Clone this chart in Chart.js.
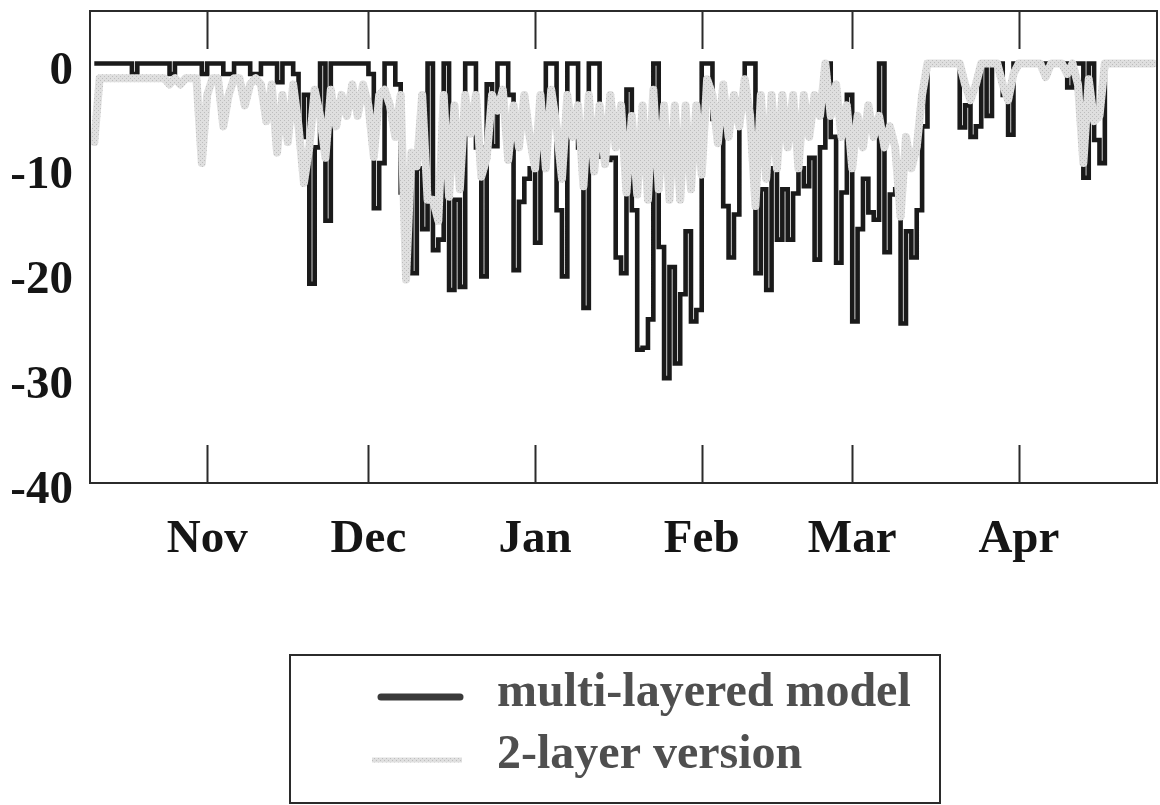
<!DOCTYPE html>
<html>
<head>
<meta charset="utf-8">
<script src="https://cdn.jsdelivr.net/npm/chart.js@4.4.1/dist/chart.umd.min.js"></script>
<style>
  html, body { margin: 0; padding: 0; background: #ffffff; }
  #c { display: block; }
</style>
</head>
<body>
<canvas id="c" width="1160" height="805"></canvas>
<script>
// ---- data (days counted from 1 Nov; first value is 11 Oct) ----
const dayStart = -21;
const monthTicks = [0, 30, 61, 92, 120, 151];
const monthLabels = ['Nov', 'Dec', 'Jan', 'Feb', 'Mar', 'Apr'];
const yTicks = [-40, -30, -20, -10, 0];

// multi-layered model (one value per day)
const multiLayer = [
  // Oct 11 - Oct 31
  0,0,0,0,0,0,0,-1,0,0,0,0,0,0,-1,0,0,0,0,0,-1,
  // Nov
  0,0,0,-1,-1,0,0,0,-1,-1,
  0,0,0,-1.8,0,0,-1,-7,-3,-21,
  -8,0,-15,0,0,0,0,0,0,0,
  // Dec
  -1,-13.8,-9.5,0,0,-2,-12.3,-11,-20,-10,
  -15.8,0,-17.8,-16.8,0,-21.6,-13,-21.3,0,0,
  -8,-20.3,-2,-7.9,0,0,-3,-19.7,-13.2,-11,-10,
  // Jan
  -17.1,-6,0,0,-14,-20.3,0,0,-8,-23.3,
  0,0,-8.9,-9.2,-9,-18.5,-20,-2.5,-14,-27.3,
  -27.1,-24.4,0,-17.5,-30,-19.4,-28.6,-22,-16,-24.6,-23.5,
  // Feb
  0,0,-5.3,-4,-13.6,-18.5,-14.4,-3.5,0,0,
  -20,-12,-21.6,-10,-16.8,-12,-16.8,-12.4,-10,-11.7,
  -9,-18.7,-8,0,-7,-19,-12.3,-3,
  // Mar
  -24.6,-15.8,-11,-14.2,-14.9,0,-18,-12.5,-12,-24.8,
  -16,-18.5,-14,-6,0,0,0,0,0,0,
  -6.1,-4,-7,-6,0,-5,0,0,-3,-6.8,0,
  // Apr 1 - Apr 26
  0,0,0,0,0,0,0,0,0,-2.3,
  0,0,-10.9,0,-7.3,-9.5,0,0,0,0,
  0,0,0,0,0,0
];

// 2-layer version (one value per day)
const twoLayer = [
  // Oct 11 - Oct 31
  -7.5,-1.4,-1.4,-1.4,-1.4,-1.4,-1.4,-1.4,-1.4,-1.4,-1.4,-1.4,-1.4,-1.4,-2,-1.4,-2,-1.4,-1.4,-1.4,-9.5,
  // Nov
  -3,-1.4,-1.4,-6,-3,-1.4,-1.4,-4,-2,-1.4,
  -2,-5.5,-2,-8.5,-3,-7.5,-2,-6,-11.4,-8,
  -2.5,-5,-9,-2.5,-6,-3,-5,-2,-5,-2,
  // Dec
  -4,-8.9,-3,-2.5,-4,-7,-3,-20.6,-8.5,-9.8,
  -3,-13,-13,-15,-3,-12.7,-4,-12,-3,-6.7,
  -3,-10.8,-9,-3,-4.5,-2.5,-9.2,-4,-8,-3,-7,
  // Jan
  -10,-3,-10,-2.5,-6,-11,-3,-7,-4,-11.7,
  -3,-10.3,-4,-9.6,-3,-8,-4,-12.3,-5,-12.5,
  -4,-13,-2.5,-12,-4,-13,-4,-13,-4,-12,-4,
  // Feb
  -10.6,-1.5,-3,-7.6,-2,-7,-3,-6,-1.5,-5,
  -13.6,-3,-11,-3,-10,-3,-8,-3,-10,-3,
  -7,-3,-5,0,-5,-2,-7,-4,
  // Mar
  -10,-5,-8,-4,-7,-5,-8,-6,-8,-14.6,
  -7,-10,-8,-3,0,0,0,0,0,0,
  0,-2,-3.5,-2,0,0,0,0,-2,-3.5,-1,
  // Apr 1 - Apr 26
  0,0,0,0,0,-1.3,0,0,0,-1,
  0,-2,-9.5,-1.5,-5.5,-5,0,0,0,0,
  0,0,0,0,0,0
];

const toPoints = arr => arr.map((v, i) => ({ x: dayStart + i, y: v }));

const FONT = "'Liberation Serif', 'Times New Roman', serif";

function stipplePattern() {
  const c = document.createElement('canvas');
  c.width = 4; c.height = 4;
  const g = c.getContext('2d');
  g.fillStyle = '#dfdfdf';
  g.fillRect(0, 0, 4, 4);
  g.fillStyle = '#bdbdbd';
  g.fillRect(0, 0, 1, 1);
  g.fillRect(2, 2, 1, 1);
  return g.createPattern(c, 'repeat');
}
const greyPattern = stipplePattern();

// frame and inner month tick marks
const framePlugin = {
  id: 'frame',
  afterDatasetsDraw(chart) {
    const { ctx, chartArea: a, scales } = chart;
    ctx.save();
    ctx.strokeStyle = '#2b2b2b';
    ctx.lineWidth = 2;
    ctx.strokeRect(a.left, a.top, a.right - a.left, a.bottom - a.top);
    monthTicks.forEach(v => {
      const px = Math.round(scales.x.getPixelForValue(v)) + 0.5;
      ctx.beginPath();
      ctx.moveTo(px, a.top);
      ctx.lineTo(px, a.top + 38);
      ctx.moveTo(px, a.bottom);
      ctx.lineTo(px, a.bottom - 38);
      ctx.stroke();
    });
    ctx.restore();
  }
};

// boxed legend below the chart
const boxLegendPlugin = {
  id: 'boxLegend',
  afterDraw(chart) {
    const { ctx } = chart;
    const ds = chart.data.datasets;
    ctx.save();
    ctx.strokeStyle = '#2b2b2b';
    ctx.lineWidth = 2;
    ctx.strokeRect(290, 655, 650, 148);
    ctx.font = "bold 48px " + FONT;
    ctx.textBaseline = 'alphabetic';
    ctx.textAlign = 'left';
    ctx.fillStyle = '#4f4f4f';
    // entry 1
    ctx.beginPath();
    ctx.lineCap = 'round';
    ctx.strokeStyle = '#3a3a3a';
    ctx.lineWidth = 7;
    ctx.moveTo(381, 697);
    ctx.lineTo(460, 697);
    ctx.stroke();
    ctx.fillText(ds[0].label, 497, 706);
    // entry 2
    ctx.beginPath();
    ctx.lineCap = 'butt';
    ctx.strokeStyle = greyPattern;
    ctx.lineWidth = 5;
    ctx.moveTo(372, 760);
    ctx.lineTo(462, 760);
    ctx.stroke();
    ctx.fillText(ds[1].label, 497, 768);
    ctx.restore();
  }
};

new Chart(document.getElementById('c'), {
  type: 'line',
  data: {
    datasets: [
      {
        label: 'multi-layered model',
        data: toPoints(multiLayer),
        borderColor: '#1a1a1a',
        borderWidth: 4.6,
        stepped: true,
        pointRadius: 0,
        borderJoinStyle: 'miter',
        fill: false,
        order: 2
      },
      {
        label: '2-layer version',
        data: toPoints(twoLayer),
        borderColor: greyPattern,
        borderWidth: 8,
        pointRadius: 0,
        tension: 0,
        borderJoinStyle: 'round',
        borderCapStyle: 'round',
        fill: false,
        order: 1
      }
    ]
  },
  options: {
    responsive: false,
    animation: false,
    events: [],
    layout: { padding: { top: 11, right: 3, left: 0, bottom: 222 } },
    plugins: { legend: { display: false }, tooltip: { enabled: false } },
    scales: {
      x: {
        type: 'linear',
        min: -21.8,
        max: 176.7,
        grid: { display: false, drawTicks: false },
        border: { display: false },
        afterBuildTicks: s => { s.ticks = monthTicks.map(v => ({ value: v })); },
        afterFit: s => { s.height = 100; s.paddingLeft = 0; s.paddingRight = 0; },
        ticks: {
          autoSkip: false,
          maxRotation: 0,
          padding: 29,
          color: '#151515',
          font: { family: FONT, size: 47, weight: 'bold' },
          callback: v => monthLabels[monthTicks.indexOf(v)]
        }
      },
      y: {
        min: -40,
        max: 5,
        grid: { display: false, drawTicks: false },
        border: { display: false },
        afterBuildTicks: s => { s.ticks = yTicks.map(v => ({ value: v })); },
        afterFit: s => { s.width = 90; s.paddingTop = 0; s.paddingBottom = 0; },
        ticks: {
          padding: 17,
          labelOffset: 8,
          color: '#151515',
          font: { family: FONT, size: 47, weight: 'bold' },
          callback: v => String(v)
        }
      }
    }
  },
  plugins: [framePlugin, boxLegendPlugin]
});
</script>
</body>
</html>
